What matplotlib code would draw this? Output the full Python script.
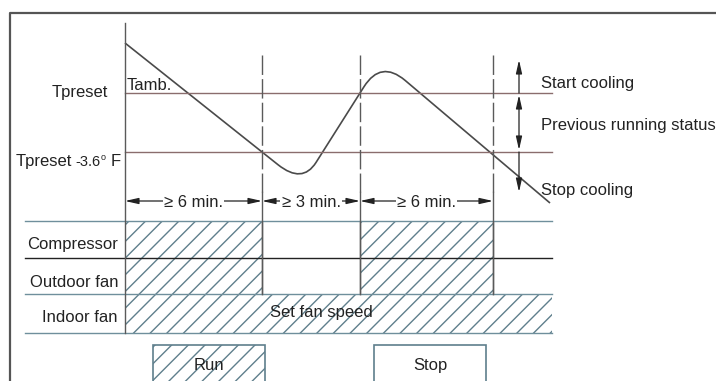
import numpy as np
import matplotlib
matplotlib.use('Agg')
import matplotlib.pyplot as plt
from matplotlib.path import Path
from matplotlib.patches import PathPatch, Rectangle

plt.rcParams['font.family'] = ['Liberation Sans', 'DejaVu Sans']
plt.rcParams['hatch.linewidth'] = 1.0

# diagram units (pixel-like), y grows downward
axis_x = 125
time_marks = [262, 360, 493]          # dashed boundaries
right_end = 552
t_preset = 93
t_low = 152
period_labels = ['\u2265 6 min.', '\u2265 3 min.', '\u2265 6 min.']
period_edges = [125, 262, 360, 493]

# Tamb curve: straight runs joined by rounded corners (quadratic control points)
curve_pts = [(125, 43), (278, 164.7), (302.3, 184.1), (316, 162.5),
             (364, 86.7), (380.9, 60), (405, 80.3), (550, 203)]
curve_codes = [Path.MOVETO, Path.LINETO, Path.CURVE3, Path.CURVE3,
               Path.LINETO, Path.CURVE3, Path.CURVE3, Path.LINETO]

row_names = ['Compressor', 'Outdoor fan', 'Indoor fan']
row_lines = [221, 258, 294, 333]
row_line_colors = ['#6f8f9c', '#222222', '#6f8f9c', '#6f8f9c']
run_spans = [(125, 262), (360, 493)]   # compressor + outdoor fan on
indoor_span = (125, 552)

status_labels = ['Start cooling', 'Previous running status', 'Stop cooling']
status_y = [88, 130, 195]

line_col = '#5a5a5a'
hatch_col = '#5f7f8c'

fig = plt.figure(figsize=(7.16, 3.81), dpi=100)
ax = fig.add_axes([0, 0, 1, 1])
ax.set_xlim(0, 716)
ax.set_ylim(381, 0)
ax.axis('off')

# outer frame
ax.plot([10, 10, 716], [381, 13, 13], color='#555555', lw=1.6)

# temperature thresholds
for y in (t_preset, t_low):
    ax.plot([axis_x, right_end], [y, y], color='#8a6d6d', lw=1.0)

# dashed time boundaries, solid through the rows
for x in time_marks:
    ax.plot([x, x], [55, 192], color=line_col, lw=1.0, dashes=(14, 3))
    ax.plot([x, x], [192, row_lines[2]], color=line_col, lw=1.0)

# Tamb curve
ax.add_patch(PathPatch(Path(curve_pts, curve_codes), fill=False,
                       edgecolor='#4a4a4a', lw=1.2))

# dimension arrows
dim_y = 201
for (x0, x1), lab in zip(zip(period_edges[:-1], period_edges[1:]), period_labels):
    ax.annotate('', xy=(x0, dim_y), xytext=(x1, dim_y),
                arrowprops=dict(arrowstyle='<|-|>,head_length=0.8,head_width=0.18',
                                color='#222222', lw=0.9, shrinkA=0, shrinkB=0,
                                mutation_scale=10))
    ax.text((x0 + x1) / 2, dim_y + 6, lab, ha='center', va='baseline', fontsize=12,
            color='#222222',
            bbox=dict(facecolor='white', edgecolor='none', pad=1.0))

# status arrows on the right
ax_x = 519
arrow_kw = dict(arrowstyle='-|>,head_length=0.8,head_width=0.18', color='#222222',
                lw=0.9, shrinkA=0, shrinkB=0, mutation_scale=10)
ax.annotate('', xy=(ax_x, 60), xytext=(ax_x, t_preset), arrowprops=arrow_kw)
ax.annotate('', xy=(ax_x, t_preset + 2), xytext=(ax_x, t_low - 2),
            arrowprops=dict(arrow_kw, arrowstyle='<|-|>,head_length=0.8,head_width=0.18'))
ax.annotate('', xy=(ax_x, 192), xytext=(ax_x, t_low), arrowprops=arrow_kw)
for lab, y in zip(status_labels, status_y):
    ax.text(541, y, lab, ha='left', va='baseline', fontsize=12, color='#222222')

# temperature labels
ax.text(108, 97, 'Tpreset', ha='right', va='baseline', fontsize=12, color='#222222')
ax.text(72, 166, 'Tpreset', ha='right', va='baseline', fontsize=12, color='#222222')
ax.text(75, 166, '-3.6', ha='left', va='baseline', fontsize=10.5, color='#222222')
ax.text(101, 160, 'o', ha='left', va='baseline', fontsize=6.5, color='#222222')
ax.text(111, 166, 'F', ha='left', va='baseline', fontsize=12, color='#222222')
ax.text(127, 90, 'Tamb.', ha='left', va='baseline', fontsize=12, color='#222222')

# status rows
for x0, x1 in run_spans:
    ax.add_patch(Rectangle((x0, row_lines[0]), x1 - x0, row_lines[2] - row_lines[0],
                           facecolor='white', edgecolor=hatch_col, hatch='//', lw=0))
ax.add_patch(Rectangle((indoor_span[0], row_lines[2]), indoor_span[1] - indoor_span[0],
                       row_lines[3] - row_lines[2], facecolor='white',
                       edgecolor=hatch_col, hatch='//', lw=0))
for y, c in zip(row_lines, row_line_colors):
    ax.plot([25, right_end], [y, y], color=c, lw=1.0)
for x in time_marks:
    ax.plot([x, x], [row_lines[0], row_lines[2]], color=line_col, lw=1.0)
ax.plot([axis_x, axis_x], [23, row_lines[-1]], color=line_col, lw=1.0)

row_base = [249, 287, 322]
for name, y in zip(row_names, row_base):
    ax.text(118, y, name, ha='right', va='baseline', fontsize=12, color='#222222')
ax.text(270, 317, 'Set fan speed', ha='left', va='baseline', fontsize=12, color='#222222')

# legend boxes
ax.add_patch(Rectangle((153, 345), 112, 40, facecolor='white', edgecolor=hatch_col,
                       hatch='//', lw=1.2))
ax.text(209, 370, 'Run', ha='center', va='baseline', fontsize=12, color='#222222')
ax.add_patch(Rectangle((374, 345), 112, 40, facecolor='white', edgecolor=hatch_col,
                       lw=1.2))
ax.text(430, 370, 'Stop', ha='center', va='baseline', fontsize=12, color='#222222')

fig.savefig('out.png', dpi=100)
